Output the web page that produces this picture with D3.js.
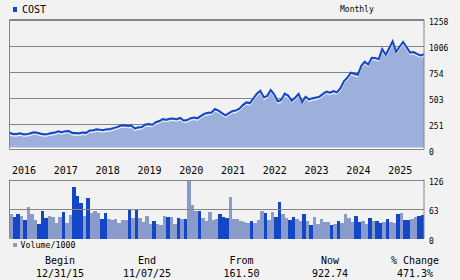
<!DOCTYPE html>
<html><head><meta charset="utf-8">
<script src="https://cdn.jsdelivr.net/npm/d3@7"></script>
<style>
html,body{margin:0;padding:0;background:#f2f2f2;}
svg{display:block;}
text{font-family:"DejaVu Sans Mono",monospace;fill:#000;}
</style></head><body>
<svg id="c" width="460" height="280"></svg>
<script>
// ---- data ----
const ticker = "COST";
const freq = "Monthly";
const years = ["2016","2017","2018","2019","2020","2021","2022","2023","2024","2025"];
// monthly closes, Dec 2015 .. Nov 2025
const prices = [
161.50,
149.86,150.00,157.58,148.11,148.77,157.04,167.22,162.52,152.51,147.87,150.13,160.11,
163.95,176.99,167.69,177.52,179.82,159.93,158.51,156.74,164.29,161.08,184.43,186.12,
194.87,190.91,188.43,197.16,198.22,208.98,218.69,233.15,234.88,228.63,231.54,203.71,
214.63,217.52,242.14,245.52,239.58,264.26,275.62,294.75,288.11,297.11,299.82,293.92,
305.53,281.15,285.13,303.01,308.49,303.21,325.52,347.64,355.00,357.62,391.75,376.78,
352.43,331.00,352.48,372.09,378.30,395.67,429.73,455.51,449.34,491.58,539.39,567.70,
505.14,519.29,575.84,531.72,466.20,479.28,541.30,522.10,472.27,501.49,539.25,456.50,
511.14,484.18,496.87,503.22,511.56,538.38,560.66,549.28,564.96,552.44,592.74,660.08,
694.88,743.91,732.63,722.90,809.98,849.99,822.60,888.16,886.52,874.18,971.88,916.27,
979.90,1047.00,945.79,994.50,1040.20,989.94,939.63,943.20,925.63,911.00,922.74
];
// monthly volume / 1000, Jan 2016 .. Nov 2025
const volumes = [
52,46,52,48,40,68,52,40,31,59,44,48,
46,33,46,57,33,50,109,91,76,48,87,55,
59,55,42,55,42,40,42,33,40,40,63,44,
61,44,35,48,31,37,31,29,48,46,46,31,
44,42,42,122,72,59,59,44,37,57,40,42,
52,46,44,89,41,42,37,35,33,37,33,40,
59,55,40,57,46,78,52,44,40,46,42,37,
52,37,29,46,31,42,35,36,29,31,37,33,
52,44,35,48,35,37,31,44,37,37,33,36,
42,35,33,52,55,40,40,42,46,48,50
];
// 1 = dark bar, 0 = light bar
const volDark = [
0,1,1,0,1,0,0,0,1,1,1,0,
0,0,0,1,0,0,1,1,1,0,1,0,
0,0,1,1,0,0,0,0,0,0,1,0,
1,0,0,0,0,1,0,0,0,1,0,0,
1,0,1,0,0,0,1,0,0,0,0,0,
1,1,1,0,0,0,0,0,0,1,0,0,
0,1,0,0,1,1,0,0,1,1,0,0,
1,0,1,0,0,0,0,0,1,0,1,0,
0,0,0,1,1,0,0,1,0,1,1,0,
1,0,0,1,0,1,1,0,0,1,1
];
const priceTicks = [0,251.6,503.2,754.8,1006.4,1258];
const priceTickLabels = ["0","251","503","754","1006","1258"];
const volTicks = [0,63,126];
const volTickLabels = ["0","63","126"];
const statHeads = ["Begin","End","From","Now","% Change"];
const statVals = ["12/31/15","11/07/25","161.50","922.74","471.3%"];

// ---- layout ----
const svg = d3.select("#c");
const L = 9.5, R = 424;
const pTop = 19.5, pBot = 149.5;
const vTop = 179.5, vBot = 238.5;
const gridCol = "#868686";
const lineCol = "#1446c8";
const areaCol = "#9db0dc";
const darkVol = "#1447c8";
const lightVol = "#8a9bc9";

const months = d3.range(prices.length);
const x = d3.scalePoint().domain(months).range([L, R]);
const y = d3.scaleLinear().domain([0, 1258]).range([pBot, pTop]);
const xv = d3.scaleBand().domain(months.slice(1)).range([L, R]).paddingInner(0).paddingOuter(0);
const yv = d3.scaleLinear().domain([0, 126]).range([vBot, vTop]);

// legend
svg.append("rect").attr("x", 13).attr("y", 7).attr("width", 4).attr("height", 5).attr("fill", lineCol);
svg.append("text").attr("x", 22).attr("y", 13).attr("font-size", 10).text(ticker);
svg.append("text").attr("x", 340).attr("y", 12).attr("font-size", 8).text(freq);

// price gridlines
const gp = svg.append("g");
priceTicks.forEach((t, i) => {
  const yy = Math.round(y(t)) + 0.5;
  if (i > 0) gp.append("line").attr("x1", L).attr("x2", R).attr("y1", yy).attr("y2", yy)
    .attr("stroke", gridCol).attr("stroke-width", 1);
  gp.append("text").attr("x", 429).attr("y", yy + 4.5).attr("font-size", 8).text(priceTickLabels[i]);
});

// area + line
const area = d3.area().x((d, i) => x(i)).y0(pBot - 1.5).y1(d => y(d)).curve(d3.curveLinear);
const line = d3.line().x((d, i) => x(i)).y(d => y(d));
svg.append("path").datum(prices).attr("d", area).attr("fill", areaCol);
svg.append("path").datum(prices).attr("d", line).attr("fill", "none")
  .attr("stroke", "#ffffff").attr("stroke-width", 1).attr("transform", "translate(0,2)");
svg.append("path").datum(prices).attr("d", line).attr("fill", "none")
  .attr("stroke", lineCol).attr("stroke-width", 2).attr("stroke-linejoin", "miter");
svg.append("line").attr("x1", L).attr("x2", R).attr("y1", pBot - 1.5).attr("y2", pBot - 1.5)
  .attr("stroke", "#ffffff").attr("stroke-width", 1);

// price frame
svg.append("line").attr("x1", L).attr("x2", R).attr("y1", pBot).attr("y2", pBot).attr("stroke", gridCol);
svg.append("line").attr("x1", L).attr("x2", L).attr("y1", pTop).attr("y2", pBot).attr("stroke", gridCol);
svg.append("line").attr("x1", R).attr("x2", R).attr("y1", pTop).attr("y2", pBot).attr("stroke", gridCol);
svg.append("line").attr("x1", L).attr("x2", R).attr("y1", pTop).attr("y2", pTop).attr("stroke", gridCol);

// year labels
years.forEach((yr, i) => {
  const idx = 1 + i * 12;
  svg.append("text").attr("x", x(idx) - 1).attr("y", 174).attr("font-size", 10).text(yr);
});

// volume bars
svg.append("g").selectAll("rect").data(volumes).join("rect")
  .attr("x", (d, i) => xv(i + 1))
  .attr("width", xv.bandwidth())
  .attr("y", d => yv(d))
  .attr("height", d => vBot - yv(d))
  .attr("fill", (d, i) => volDark[i] ? darkVol : lightVol)
  .attr("shape-rendering", "crispEdges");

// volume grid / frame
volTicks.forEach((t, i) => {
  const yy = Math.round(yv(t)) + 0.5;
  if (i > 0) svg.append("line").attr("x1", L).attr("x2", R).attr("y1", yy).attr("y2", yy)
    .attr("stroke", gridCol);
  svg.append("text").attr("x", 429).attr("y", yy + 4.5).attr("font-size", 8).text(volTickLabels[i]);
});
svg.append("line").attr("x1", L).attr("x2", L).attr("y1", vTop).attr("y2", vBot).attr("stroke", gridCol);
svg.append("line").attr("x1", R).attr("x2", R).attr("y1", vTop).attr("y2", vBot).attr("stroke", gridCol);

// volume legend
svg.append("rect").attr("x", 13).attr("y", 243).attr("width", 4).attr("height", 4).attr("fill", lightVol);
svg.append("text").attr("x", 20.5).attr("y", 248).attr("font-size", 8.3).text("Volume/1000");

// stats
const cols = [60, 147, 241.5, 330, 415];
statHeads.forEach((h, i) => {
  svg.append("text").attr("x", cols[i]).attr("y", 263.5).attr("font-size", 10).attr("text-anchor", "middle").text(h);
  svg.append("text").attr("x", cols[i]).attr("y", 277).attr("font-size", 10).attr("text-anchor", "middle").text(statVals[i]);
});
</script></body></html>
